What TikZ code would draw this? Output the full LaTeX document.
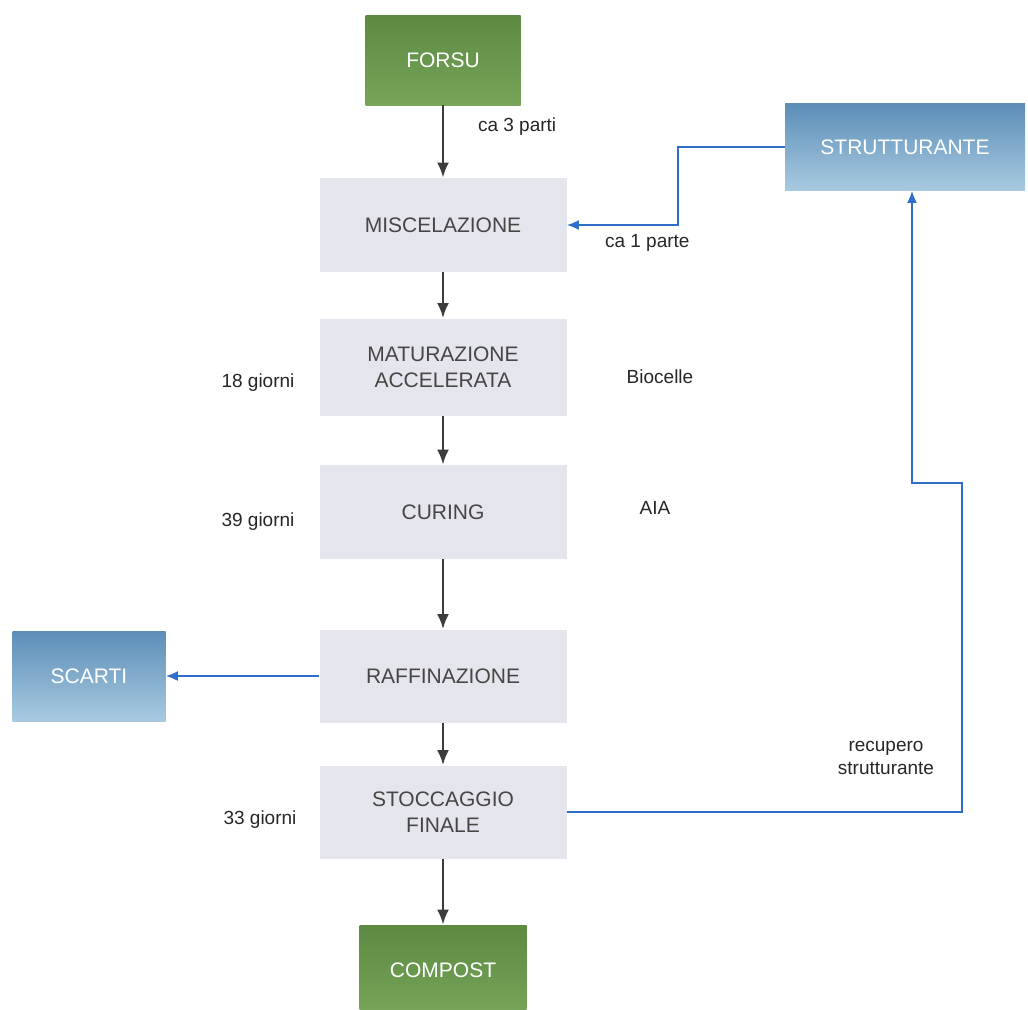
\documentclass[tikz,border=0pt]{standalone}
\usepackage{fontspec}
\setmainfont{Liberation Sans}
\usetikzlibrary{arrows.meta}
\definecolor{verde1}{RGB}{92,138,66}
\definecolor{verde2}{RGB}{118,164,88}
\definecolor{blu1}{RGB}{92,142,184}
\definecolor{blu2}{RGB}{168,202,224}
\definecolor{grigio}{RGB}{229,229,237}
\definecolor{testo}{RGB}{70,70,70}
\definecolor{freccia}{RGB}{60,60,60}
\definecolor{linea}{RGB}{46,110,200}
\begin{document}
\begin{tikzpicture}[x=0.5pt,y=-0.5pt]
\tikzset{fase/.style={fill=grigio, minimum width=123.5pt, minimum height=47pt, align=center, text=testo, font=\fontsize{10.5}{13}\selectfont},
verdebox/.style={top color=verde1, bottom color=verde2, text=white, font=\fontsize{10.5}{13}\selectfont},
blubox/.style={top color=blu1, bottom color=blu2, text=white, font=\fontsize{10.5}{13}\selectfont},
nota/.style={text=black!85, font=\fontsize{9.5}{11.5}\selectfont, align=center},
giu/.style={-{Latex[length=7.5pt,width=6pt]}, freccia, line width=1.3pt},
lato/.style={-{Latex[length=6pt,width=5pt]}, linea, line width=0.9pt}}
\useasboundingbox (0,0) rectangle (1028,1009);
\clip (0,0) rectangle (1028,1009);
\node[verdebox, minimum width=77.5pt, minimum height=45pt] (forsu) at (443,60) {FORSU};
\node[blubox, minimum width=120pt, minimum height=43.5pt] (strut) at (905,147) {STRUTTURANTE};
\node[fase] (misc) at (443,225) {MISCELAZIONE};
\node[fase, minimum height=48.5pt] (matur) at (443,367) {MATURAZIONE\\ACCELERATA};
\node[fase] (curing) at (443,512) {CURING};
\node[fase, minimum height=46.5pt] (raff) at (443,676) {RAFFINAZIONE};
\node[fase, minimum height=46.5pt] (stocc) at (443,812) {STOCCAGGIO\\FINALE};
\node[blubox, minimum width=76.5pt, minimum height=45pt] (scarti) at (89,676) {SCARTI};
\node[verdebox, minimum width=83.5pt, minimum height=45pt] (compost) at (443,970) {COMPOST};
% etichette
\node[nota, anchor=west] (l3p) at (471,127) {ca 3 parti};
\node[nota, anchor=west] (l1p) at (598,243) {ca 1 parte};
\node[nota] (g18) at (258,383) {18 giorni};
\node[nota] (bio) at (660,377) {Biocelle};
\node[nota] (g39) at (258,522) {39 giorni};
\node[nota] (aia) at (655,508) {AIA};
\node[nota] (g33) at (260,820) {33 giorni};
\node[nota] (recu) at (886,758) {recupero\\strutturante};
\coordinate (ret) at (962,483);
\coordinate (rtop) at (912,483);
% frecce
\draw[giu] (forsu) -- (misc);
\draw[giu] (misc) -- (matur);
\draw[giu] (matur) -- (curing);
\draw[giu] (curing) -- (raff);
\draw[giu] (raff) -- (stocc);
\draw[giu] (stocc) -- (compost);
\draw[lato] (strut.west) -- ++(-107,0) |- (misc.east);
\draw[lato] (raff.west) -- (scarti.east);
\draw[lato] (stocc.east) -| (ret) -- (rtop) -- (rtop |- strut.south);
\end{tikzpicture}
\end{document}
